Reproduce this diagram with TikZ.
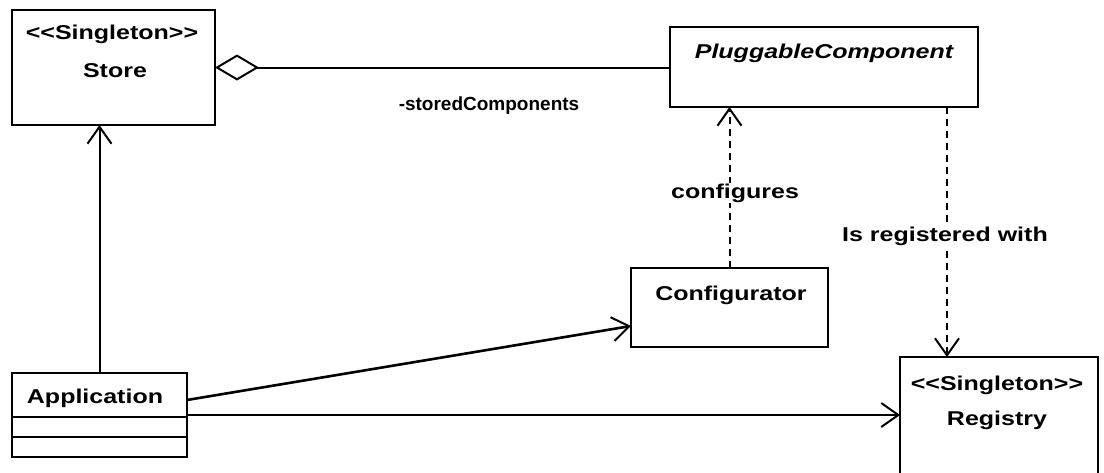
\documentclass[tikz,border=0pt]{standalone}
\usepackage{fontspec}
\newfontfamily\umlfont[FakeStretch=1.25]{Liberation Sans}
\newfontfamily\umlnarrow{Liberation Sans}
\usetikzlibrary{arrows.meta}
\begin{document}
\begin{tikzpicture}[x=1pt,y=-1pt,
  umlbox/.style={draw, line width=2.6pt, inner sep=0pt, outer sep=0pt, anchor=north west},
  lbl/.style={font=\umlfont\bfseries\fontsize{20}{24}\selectfont, inner sep=1pt, anchor=base},
  conn/.style={line width=2pt},
  dep/.style={conn, dash pattern=on 7pt off 5pt},
  openhead/.style={-{Straight Barb[length=17pt,width=24pt,line width=2pt]}},
  aggr/.style={{Diamond[open,length=44pt,width=26pt,line width=2pt]}-}
]
\useasboundingbox (0,0) rectangle (1104,472);
\fill[white] (0,0) rectangle (1104,472);

% classes
\node[umlbox, minimum width=203pt, minimum height=115pt] (store) at (12,10) {};
\node[lbl] (storest) at (112,39) {<<Singleton>>};
\node[lbl] (storenm) at (115,77) {Store};

\node[umlbox, minimum width=308pt, minimum height=80pt] (plug) at (670,27) {};
\node[lbl, font=\umlfont\bfseries\itshape\fontsize{20}{24}\selectfont] (plugnm) at (824,58) {PluggableComponent};

\node[umlbox, minimum width=197pt, minimum height=79pt] (conf) at (631,268) {};
\node[lbl] (confnm) at (731,300) {Configurator};

\node[umlbox, minimum width=198pt, minimum height=130pt] (reg) at (900,357) {};
\node[lbl] (regst) at (997,390) {<<Singleton>>};
\node[lbl] (regnm) at (997,425) {Registry};

\node[umlbox, minimum width=175pt, minimum height=84pt] (app) at (12,373) {};
\node[lbl] (appnm) at (95,403) {Application};
\draw[line width=2.6pt] ([yshift=-44pt]app.north west) -- ([yshift=-44pt]app.north east);
\draw[line width=2.6pt] ([yshift=-64pt]app.north west) -- ([yshift=-64pt]app.north east);

% connectors
\draw[conn, aggr] (store.east) -- (store.east -| plug.west);
\node[lbl, font=\umlnarrow\bfseries\fontsize{19}{23}\selectfont] (stored) at (489,110) {-storedComponents};

\draw[conn, openhead] (app.north) -- (app.north |- store.south);

\draw[dep, openhead] (conf.north) -- (conf.north |- plug.south);
\node[lbl, fill=white] (configures) at (735,198) {configures};

\draw[dep, openhead] ([xshift=-31pt]plug.south east) -- ([xshift=-31pt]plug.south east |- reg.north);
\node[lbl, fill=white] (isreg) at (945,241) {Is registered with};

\draw[conn, line width=2.6pt, openhead] ([yshift=-27pt]app.north east) -- ([yshift=21pt]conf.south west);
\draw[conn, openhead] (app.east) -- (app.east -| reg.west);
\end{tikzpicture}
\end{document}
